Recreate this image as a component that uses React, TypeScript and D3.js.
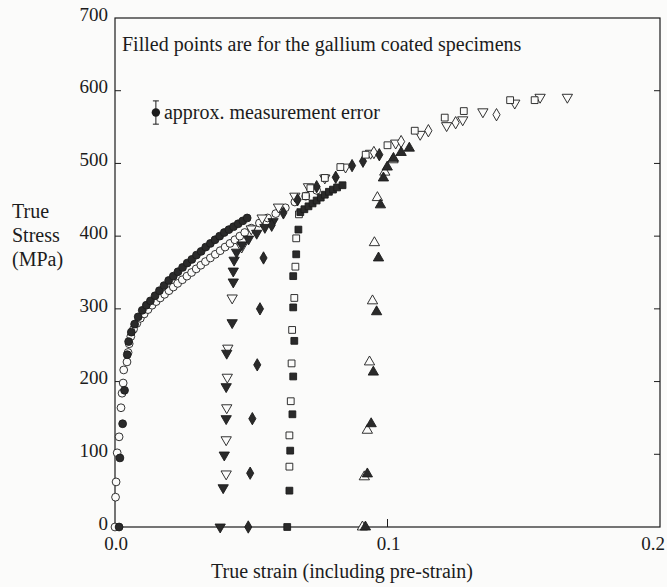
import { useEffect, useRef } from "react";
import * as d3 from "d3";

// [true strain, true stress MPa]
const openCircles: [number, number][] = [
  [0.0, 0], [0.0002, 41], [0.0004, 62], [0.0008, 102], [0.0015, 124], [0.0022, 164],
  [0.0026, 184], [0.003, 198], [0.0032, 216], [0.0044, 227], [0.0048, 240], [0.0052, 252],
  [0.0058, 262], [0.0068, 272], [0.008, 280], [0.0093, 287], [0.0107, 293], [0.0121, 299],
  [0.0136, 305], [0.0151, 310], [0.0166, 315], [0.0182, 320], [0.0198, 325], [0.0214, 330],
  [0.023, 335], [0.0247, 340], [0.0264, 345], [0.0281, 350], [0.0298, 355], [0.0315, 360],
  [0.0332, 365], [0.035, 370], [0.0368, 375], [0.0386, 380], [0.0404, 385], [0.0422, 390],
  [0.044, 395], [0.0458, 400], [0.0476, 405], [0.05, 411], [0.053, 418], [0.056, 425],
  [0.059, 431], [0.0625, 439], [0.066, 447], [0.07, 455], [0.074, 463],
];

const filledCircles: [number, number][] = [
  [0.0015, 0], [0.0018, 95], [0.0028, 142], [0.0035, 188], [0.0045, 237], [0.005, 255],
  [0.006, 268], [0.0072, 279], [0.0085, 289], [0.01, 298], [0.0115, 305], [0.013, 311],
  [0.0147, 318], [0.0163, 325], [0.018, 332], [0.0197, 339], [0.0214, 345], [0.0231, 351],
  [0.0248, 357], [0.0265, 363], [0.0282, 368], [0.0299, 374], [0.0316, 379], [0.0333, 385],
  [0.035, 390], [0.0367, 395], [0.0384, 400], [0.0401, 405], [0.0418, 409], [0.0435, 413],
  [0.0452, 417], [0.0469, 421], [0.0485, 425],
];

const filledDown: [number, number][] = [
  [0.0386, 0], [0.0397, 54], [0.0401, 99], [0.0408, 149], [0.0408, 193], [0.041, 239],
  [0.043, 281], [0.0434, 337], [0.0434, 352], [0.0437, 367], [0.0446, 378], [0.0466, 388],
  [0.049, 396], [0.052, 404], [0.055, 412], [0.058, 420],
];

const openDown: [number, number][] = [
  [0.0408, 73], [0.0408, 120], [0.041, 164], [0.0412, 206], [0.0414, 246], [0.043, 315],
  [0.0465, 385], [0.05, 410], [0.054, 425], [0.06, 440], [0.066, 455], [0.071, 468],
  [0.077, 480], [0.0846, 495], [0.0938, 514], [0.103, 528], [0.112, 540], [0.1217, 552],
  [0.1276, 560], [0.135, 571], [0.1467, 583], [0.156, 591], [0.166, 591],
];

const filledDiamonds: [number, number][] = [
  [0.0489, 0], [0.0496, 74], [0.0504, 149], [0.0522, 223], [0.0532, 300], [0.0545, 370],
  [0.0575, 415], [0.0618, 432], [0.067, 450], [0.074, 468], [0.081, 481], [0.087, 497],
  [0.091, 503], [0.097, 512],
];

const openDiamonds: [number, number][] = [
  [0.095, 515], [0.105, 530], [0.115, 545], [0.125, 556], [0.14, 567],
];

const filledSquares: [number, number][] = [
  [0.0632, 0], [0.064, 50], [0.0643, 105], [0.0651, 155], [0.0654, 207], [0.0658, 256],
  [0.0654, 302], [0.0654, 345], [0.0665, 375], [0.0673, 409], [0.068, 433], [0.0695, 437],
  [0.071, 441], [0.0725, 445], [0.074, 449], [0.0755, 453], [0.077, 457], [0.0785, 461],
  [0.08, 464], [0.0815, 467], [0.0835, 470],
];

const openSquares: [number, number][] = [
  [0.064, 83], [0.064, 126], [0.0645, 173], [0.0648, 225], [0.065, 271], [0.0658, 315],
  [0.0662, 358], [0.0665, 397], [0.0675, 430], [0.07, 455], [0.0717, 466], [0.077, 480],
  [0.0827, 495], [0.092, 512], [0.1, 525], [0.11, 545], [0.121, 563], [0.128, 572],
  [0.145, 587], [0.154, 587],
];

const openUp: [number, number][] = [
  [0.0908, 0], [0.0915, 69], [0.0926, 133], [0.0934, 227], [0.0945, 311], [0.0952, 391],
  [0.0963, 453], [0.099, 488], [0.102, 505],
];

const filledUp: [number, number][] = [
  [0.0919, 0], [0.0926, 73], [0.094, 142], [0.0948, 213], [0.096, 296], [0.0967, 370],
  [0.0974, 443], [0.0985, 480], [0.0999, 495], [0.1022, 507], [0.105, 515], [0.108, 521],
];

const yTicks = [0, 100, 200, 300, 400, 500, 600, 700];
const xTicks = [0.0, 0.1, 0.2];
const yTitle = ["True", "Stress", "(MPa)"];
const errorBar = { strain: 0.015, stress: 570, err: 16 };

const ink = "#1c1c1c";
const paper = "#fbfbfa";

export default function App() {
  const svgRef = useRef<SVGSVGElement>(null);

  useEffect(() => {
    const svg = d3.select(svgRef.current);
    svg.selectAll("*").remove();

    const x = d3.scaleLinear().domain([0, 0.2]).range([115, 660]);
    const y = d3.scaleLinear().domain([0, 700]).range([527, 18]);

    svg.append("rect").attr("width", 667).attr("height", 587).attr("fill", paper);

    // frame
    svg.append("rect")
      .attr("x", x(0)).attr("y", y(700))
      .attr("width", x(0.2) - x(0)).attr("height", y(0) - y(700))
      .attr("fill", "none").attr("stroke", ink).attr("stroke-width", 1.2);

    // inward ticks, left and right
    yTicks.slice(1, -1).forEach(t => {
      svg.append("line").attr("x1", x(0)).attr("x2", x(0) + 6)
        .attr("y1", y(t)).attr("y2", y(t)).attr("stroke", ink);
      svg.append("line").attr("x1", x(0.2)).attr("x2", x(0.2) - 6)
        .attr("y1", y(t)).attr("y2", y(t)).attr("stroke", ink);
    });
    svg.append("line").attr("x1", x(0.1)).attr("x2", x(0.1))
      .attr("y1", y(0)).attr("y2", y(0) - 8).attr("stroke", ink);

    const font = "'Liberation Serif', 'Times New Roman', serif";

    svg.append("g").selectAll("text").data(yTicks).join("text")
      .attr("x", 108).attr("y", d => y(d) - 4)
      .attr("dy", "0.35em").attr("text-anchor", "end")
      .attr("font-family", font).attr("font-size", 19).attr("fill", ink)
      .text(d => String(d));

    svg.append("g").selectAll("text").data(xTicks).join("text")
      .attr("x", d => (d === 0.2 ? 665 : x(d) + 1)).attr("y", 550)
      .attr("text-anchor", d => (d === 0.2 ? "end" : "middle"))
      .attr("font-family", font).attr("font-size", 19).attr("fill", ink)
      .text(d => d.toFixed(1));

    svg.append("text").attr("x", 342).attr("y", 578).attr("text-anchor", "middle")
      .attr("font-family", font).attr("font-size", 20).attr("fill", ink)
      .text("True strain (including pre-strain)");

    yTitle.forEach((s, i) => {
      svg.append("text").attr("x", 12).attr("y", 218 + i * 24)
        .attr("font-family", font).attr("font-size", 20).attr("fill", ink).text(s);
    });

    svg.append("text").attr("x", 122).attr("y", 51)
      .attr("font-family", font).attr("font-size", 20).attr("fill", ink)
      .text("Filled points are for the gallium coated specimens");

    // error bar legend
    const ex = x(errorBar.strain), ey = y(errorBar.stress);
    const eh = y(errorBar.stress - errorBar.err) - ey;
    svg.append("line").attr("x1", ex).attr("x2", ex).attr("y1", ey - eh).attr("y2", ey + eh)
      .attr("stroke", ink);
    svg.append("line").attr("x1", ex - 3).attr("x2", ex + 3).attr("y1", ey - eh).attr("y2", ey - eh)
      .attr("stroke", ink);
    svg.append("line").attr("x1", ex - 3).attr("x2", ex + 3).attr("y1", ey + eh).attr("y2", ey + eh)
      .attr("stroke", ink);
    svg.append("circle").attr("cx", ex).attr("cy", ey).attr("r", 4.2).attr("fill", ink);
    svg.append("text").attr("x", ex + 8).attr("y", ey + 6)
      .attr("font-family", font).attr("font-size", 20).attr("fill", ink)
      .text("approx. measurement error");

    const series: { data: [number, number][]; shape: d3.SymbolType; size: number; filled: boolean; down?: boolean }[] = [
      { data: openCircles, shape: d3.symbolCircle, size: 48, filled: false },
      { data: filledCircles, shape: d3.symbolCircle, size: 48, filled: true },
      { data: openDown, shape: d3.symbolTriangle, size: 46, filled: false, down: true },
      { data: filledDown, shape: d3.symbolTriangle, size: 46, filled: true, down: true },
      { data: openDiamonds, shape: d3.symbolDiamond, size: 44, filled: false },
      { data: filledDiamonds, shape: d3.symbolDiamond, size: 44, filled: true },
      { data: openSquares, shape: d3.symbolSquare, size: 46, filled: false },
      { data: filledSquares, shape: d3.symbolSquare, size: 46, filled: true },
      { data: openUp, shape: d3.symbolTriangle, size: 46, filled: false },
      { data: filledUp, shape: d3.symbolTriangle, size: 46, filled: true },
    ];

    series.forEach(s => {
      const sym = d3.symbol().type(s.shape).size(s.size);
      svg.append("g").selectAll("path").data(s.data).join("path")
        .attr("transform", d => `translate(${x(d[0])},${y(d[1])})${s.down ? " rotate(180)" : ""}`)
        .attr("d", sym()!)
        .attr("fill", s.filled ? "#2a2a2a" : paper)
        .attr("stroke", ink).attr("stroke-width", 0.9);
    });
  }, []);

  return (
    <svg ref={svgRef} width={667} height={587}
      style={{ position: "absolute", left: 0, top: 0, display: "block" }} />
  );
}
